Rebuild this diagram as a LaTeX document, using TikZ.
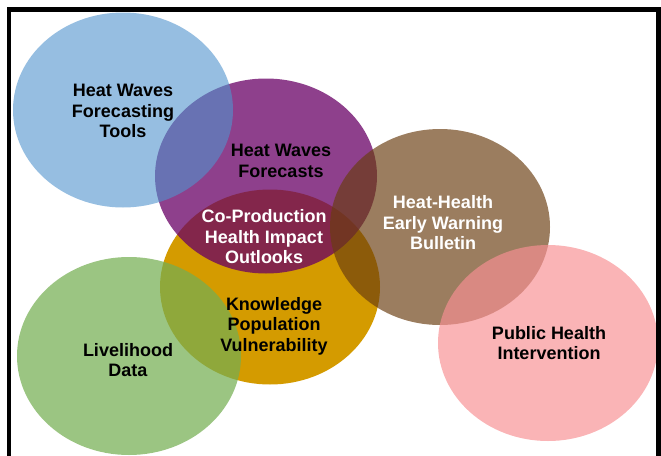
\documentclass[tikz,border=0pt]{standalone}
\usepackage{fontspec}
\setmainfont{Liberation Sans}
\usepackage{tikz}
\usetikzlibrary{shapes.geometric}
\definecolor{kvorange}{RGB}{212,155,0}
\definecolor{fcpurple}{RGB}{104,0,101}
\definecolor{toolsblue}{RGB}{80,147,205}
\definecolor{livegreen}{RGB}{117,174,82}
\definecolor{bulbrown}{RGB}{106,61,16}
\definecolor{phpink}{RGB}{247,144,147}

\begin{document}
\begin{tikzpicture}[x=1pt,y=-1pt,
  bubble/.style={ellipse,minimum width=220pt,minimum height=195pt,inner sep=0pt},
  caption/.style={align=center,inner sep=0pt,
                  font=\bfseries\fontsize{18}{20.5}\selectfont}]
\useasboundingbox (0,0) rectangle (661,455);
\clip (0,0) rectangle (661,455);
% bubbles, back to front
\node[bubble,fill=kvorange] (kvb) at (270,287) {};
\node[bubble,fill=fcpurple,fill opacity=.75,minimum width=222pt] (fcb) at (266,176) {};
\node[bubble,fill=toolsblue,fill opacity=.6] (twb) at (123,110) {};
\node[bubble,fill=livegreen,fill opacity=.72,minimum width=224pt,minimum height=198pt] (ldb) at (129,356) {};
\node[bubble,fill=bulbrown,fill opacity=.67,minimum height=196pt] (ewb) at (440,227) {};
\node[bubble,fill=phpink,fill opacity=.68,minimum height=196pt] (phb) at (548,343) {};
% captions
\node[caption] (tools) at (123,111) {Heat Waves\\Forecasting\\Tools};
\node[caption] (fcst) at (281,161) {Heat Waves\\Forecasts};
\node[caption,text=white] (coprod) at (264,237) {Co-Production\\Health Impact\\Outlooks};
\node[caption] (know) at (274,326) {Knowledge\\Population\\Vulnerability};
\node[caption,text=white] (bull) at (443,223) {Heat-Health\\Early Warning\\Bulletin};
\node[caption] (live) at (128,360) {Livelihood\\Data};
\node[caption] (pub) at (549,343) {Public Health\\Intervention};
% frame
\draw[line width=4.5pt] (9,9.5) rectangle (658.5,470);
\end{tikzpicture}
\end{document}
